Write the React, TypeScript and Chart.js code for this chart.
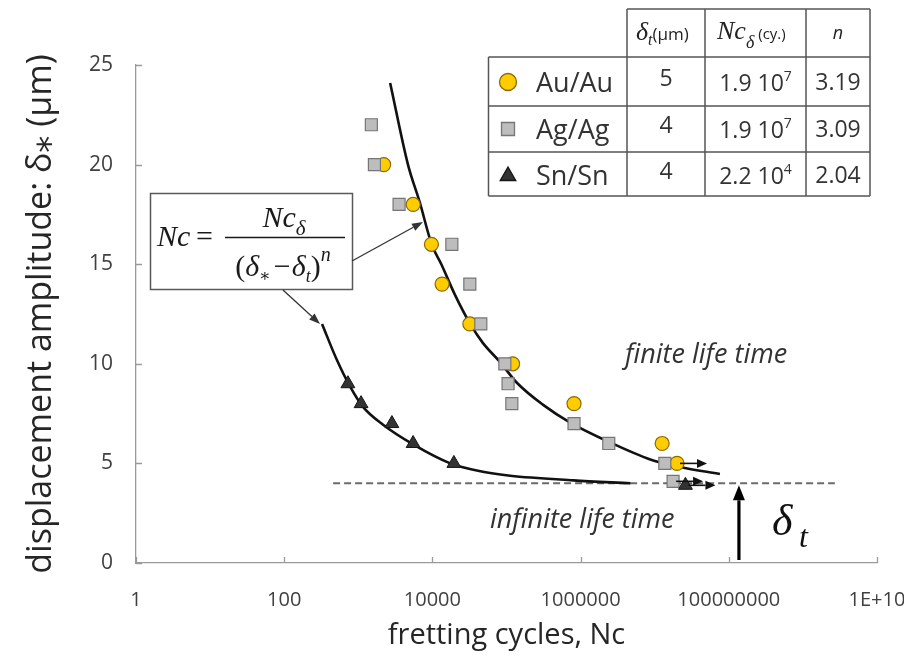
import React, { useEffect, useRef } from 'react';
import { Chart, registerables } from 'chart.js';

Chart.register(...registerables);

// ---------- data ----------
const xTickValues = [1, 100, 1e4, 1e6, 1e8, 1e10];
const xTickLabels = ['1', '100', '10000', '1000000', '100000000', '1E+10'];
const yTickValues = [0, 5, 10, 15, 20, 25];
const yTickLabels = ['0', '5', '10', '15', '20', '25'];

const auX = [2200, 5500, 9700, 13500, 32000, 121000, 815000, 12600000];
const auY = [20, 18, 16, 14, 12, 10, 8, 6];
const auRunX = [20000000];
const auRunY = [5];

const agX = [1500, 1650, 3550, 18300, 32000, 45000, 95000, 105000, 118000, 815000, 2400000, 13700000];
const agY = [22, 20, 18, 16, 14, 12, 10, 9, 8, 7, 6, 5];
const agRunX = [17700000];
const agRunY = [4.1];

const snX = [724, 1090, 2840, 5490, 19500];
const snY = [9, 8, 7, 6, 5];
const snRunX = [26000000];
const snRunY = [3.9];

// fitted curves
const fitAgX = [2690, 4680, 6760, 9770, 13200, 19950, 32400, 47900, 81300, 138000, 309000, 724000, 2510000, 8710000, 21900000, 75900000];
const fitAgY = [24.1, 20.0, 18.1, 16.0, 15.0, 13.5, 12.0, 11.05, 10.1, 9.05, 7.95, 7.05, 6.05, 5.2, 4.82, 4.47];
const fitSnX = [324, 513, 776, 1150, 2140, 5500, 17400, 47900, 112000, 800000, 4700000];
const fitSnY = [12.0, 10.2, 8.85, 7.85, 6.95, 5.95, 5.0, 4.58, 4.38, 4.15, 4.0];

const deltaT = 4;
const dashX = [457, 2700000000];
const deltaArrowX = 137000000;
const deltaArrowFromY = 0.15;

const tableMaterials = ['Au/Au', 'Ag/Ag', 'Sn/Sn'];
const tableDeltaT = ['5', '4', '4'];
const tableNcMant = ['1.9 10', '1.9 10', '2.2 10'];
const tableNcExp = ['7', '7', '4'];
const tableN = ['3.19', '3.09', '2.04'];

// ---------- styles ----------
const SANS = '"Open Sans", "DejaVu Sans", sans-serif';
const SERIF = '"Liberation Serif", "DejaVu Serif", serif';
const AXIS = '#9a9a9a';
const AU_FILL = '#FFCC00';
const AU_EDGE = '#8a6a00';
const AG_FILL = '#BDBDBD';
const AG_EDGE = '#767676';
const SN_FILL = '#333333';
const SN_EDGE = '#151515';

const toPts = (xs: number[], ys: number[]) => xs.map((x, i) => ({ x, y: ys[i] }));

function arrow(ctx: CanvasRenderingContext2D, x1: number, y1: number, x2: number, y2: number, head: number, hw: number, lw: number, color: string) {
  const a = Math.atan2(y2 - y1, x2 - x1);
  const bx = x2 - Math.cos(a) * head;
  const by = y2 - Math.sin(a) * head;
  ctx.strokeStyle = color;
  ctx.fillStyle = color;
  ctx.lineWidth = lw;
  ctx.beginPath();
  ctx.moveTo(x1, y1);
  ctx.lineTo(bx, by);
  ctx.stroke();
  ctx.beginPath();
  ctx.moveTo(x2, y2);
  ctx.lineTo(bx + Math.sin(a) * hw / 2, by - Math.cos(a) * hw / 2);
  ctx.lineTo(bx - Math.sin(a) * hw / 2, by + Math.cos(a) * hw / 2);
  ctx.closePath();
  ctx.fill();
}

type Run = { t: string; font: string; dy?: number; gap?: number };
function runsWidth(ctx: CanvasRenderingContext2D, runs: Run[]) {
  let w = 0;
  for (const r of runs) { ctx.font = r.font; w += ctx.measureText(r.t).width + (r.gap || 0); }
  return w;
}
function drawRuns(ctx: CanvasRenderingContext2D, runs: Run[], x: number, base: number) {
  for (const r of runs) {
    ctx.font = r.font;
    ctx.fillText(r.t, x, base + (r.dy || 0));
    x += ctx.measureText(r.t).width + (r.gap || 0);
  }
  return x;
}

function marker(ctx: CanvasRenderingContext2D, kind: string, x: number, y: number, s: number) {
  ctx.beginPath();
  if (kind === 'circle') {
    ctx.arc(x, y, s, 0, Math.PI * 2);
    ctx.fillStyle = AU_FILL; ctx.strokeStyle = AU_EDGE;
  } else if (kind === 'rect') {
    ctx.rect(x - s, y - s, 2 * s, 2 * s);
    ctx.fillStyle = AG_FILL; ctx.strokeStyle = AG_EDGE;
  } else {
    ctx.moveTo(x, y - s);
    ctx.lineTo(x + s * 0.866, y + s / 2);
    ctx.lineTo(x - s * 0.866, y + s / 2);
    ctx.closePath();
    ctx.fillStyle = SN_FILL; ctx.strokeStyle = SN_EDGE;
  }
  ctx.lineWidth = 1.3;
  ctx.fill();
  ctx.stroke();
}

const overlay = {
  id: 'overlay',
  afterDatasetsDraw(chart: any) {
    const ctx: CanvasRenderingContext2D = chart.ctx;
    const xs = chart.scales.x;
    const ys = chart.scales.y;
    ctx.save();
    // runout arrows
    const runs: [number[], number[]][] = [[auRunX, auRunY], [agRunX, agRunY], [snRunX, snRunY]];
    runs.forEach(([rx, ry]) => {
      rx.forEach((v, i) => {
        const px = xs.getPixelForValue(v);
        const py = ys.getPixelForValue(ry[i]);
        arrow(ctx, px + 3, py, px + 30, py, 10, 9, 1.6, '#111');
      });
    });
    // delta_t vertical arrow
    const ax = xs.getPixelForValue(deltaArrowX);
    arrow(ctx, ax, ys.getPixelForValue(deltaArrowFromY), ax, ys.getPixelForValue(deltaT) + 2, 15, 12, 3.2, '#000');
    ctx.restore();
  },
  afterDraw(chart: any) {
    const ctx: CanvasRenderingContext2D = chart.ctx;
    const xs = chart.scales.x;
    const ys = chart.scales.y;
    ctx.save();
    // inside tick marks
    ctx.strokeStyle = AXIS;
    ctx.lineWidth = 1.3;
    ctx.beginPath();
    xTickValues.forEach((v) => {
      const px = Math.round(xs.getPixelForValue(v)) + 0.5;
      ctx.moveTo(px, ys.bottom);
      ctx.lineTo(px, ys.bottom - 6);
    });
    yTickValues.forEach((v) => {
      const py = Math.round(ys.getPixelForValue(v)) + 0.5;
      ctx.moveTo(xs.left, py);
      ctx.lineTo(xs.left + 6, py);
    });
    ctx.stroke();

    // annotation texts
    ctx.fillStyle = '#333';
    ctx.textBaseline = 'middle';
    ctx.textAlign = 'left';
    ctx.font = `italic 27px ${SANS}`;
    ctx.fillText('finite life time', 625, 355);
    ctx.fillText('infinite life time', 490, 520);

    ctx.textBaseline = 'alphabetic';
    ctx.fillStyle = '#111';
    ctx.font = `italic 44px ${SERIF}`;
    ctx.fillText('δ', 772, 535);
    ctx.font = `italic 32px ${SERIF}`;
    ctx.fillText('t', 799, 547);

    // formula box
    ctx.fillStyle = '#fff';
    ctx.fillRect(150, 193, 202, 96);
    ctx.strokeStyle = '#595959';
    ctx.lineWidth = 1.5;
    ctx.strokeRect(150.5, 193.5, 202, 96);
    ctx.fillStyle = '#1a1a1a';
    drawRuns(ctx, [{ t: 'Nc', font: `italic 30px ${SERIF}` }], 157, 246);
    drawRuns(ctx, [{ t: '=', font: `30px ${SERIF}` }], 196, 246);
    ctx.strokeStyle = '#1a1a1a';
    ctx.lineWidth = 1.4;
    ctx.beginPath();
    ctx.moveTo(225, 237.5);
    ctx.lineTo(345, 237.5);
    ctx.stroke();
    const num: Run[] = [
      { t: 'Nc', font: `italic 30px ${SERIF}` },
      { t: 'δ', font: `italic 21px ${SERIF}`, dy: 8 },
    ];
    drawRuns(ctx, num, 284 - runsWidth(ctx, num) / 2, 227);
    const den: Run[] = [
      { t: '(', font: `30px ${SERIF}` },
      { t: 'δ', font: `italic 30px ${SERIF}` },
      { t: '∗', font: `17px ${SERIF}`, dy: 5, gap: 3 },
      { t: '−', font: `30px ${SERIF}`, gap: 1 },
      { t: 'δ', font: `italic 30px ${SERIF}` },
      { t: 't', font: `italic 18px ${SERIF}`, dy: 6 },
      { t: ')', font: `30px ${SERIF}` },
      { t: 'n', font: `italic 20px ${SERIF}`, dy: -15 },
    ];
    drawRuns(ctx, den, 283 - runsWidth(ctx, den) / 2, 276);

    // formula arrows
    arrow(ctx, 352, 261, 423, 222, 11, 8, 1.3, '#333');
    arrow(ctx, 283, 290, 320, 324, 11, 8, 1.3, '#333');

    // table
    const L = 488.5, C1 = 627, C2 = 705, C3 = 806, R = 870;
    const T = 9, H = 57, R1 = 106, R2 = 152, B = 196;
    ctx.fillStyle = '#fff';
    ctx.fillRect(C1, T, R - C1, H - T);
    ctx.fillRect(L, H, R - L, B - H);
    ctx.strokeStyle = '#555';
    ctx.lineWidth = 1.5;
    ctx.beginPath();
    ctx.moveTo(C1, T); ctx.lineTo(R, T);
    ctx.moveTo(L, H); ctx.lineTo(R, H);
    ctx.moveTo(L, R1); ctx.lineTo(R, R1);
    ctx.moveTo(L, R2); ctx.lineTo(R, R2);
    ctx.moveTo(L, B); ctx.lineTo(R, B);
    ctx.moveTo(L, H); ctx.lineTo(L, B);
    [C1, C2, C3, R].forEach((cx) => { ctx.moveTo(cx, T); ctx.lineTo(cx, B); });
    ctx.stroke();

    // header
    ctx.fillStyle = '#222';
    drawRuns(ctx, [
      { t: 'δ', font: `italic 26px ${SERIF}` },
      { t: 't', font: `italic 16px ${SERIF}`, dy: 5 },
      { t: '(µm)', font: `17px ${SANS}` },
    ], 636, 40);
    drawRuns(ctx, [
      { t: 'Nc', font: `italic 26px ${SERIF}` },
      { t: 'δ', font: `italic 18px ${SERIF}`, dy: 9, gap: 4 },
      { t: '(cy.)', font: `15px ${SANS}` },
    ], 717, 39);
    ctx.font = `italic 18px ${SANS}`;
    ctx.textAlign = 'center';
    ctx.fillText('n', 838, 39);

    const rowMid = [82, 129, 175];
    const kinds = ['circle', 'rect', 'triangle'];
    const sizes = [8.5, 6.5, 9];
    rowMid.forEach((y, i) => {
      marker(ctx, kinds[i], 508, y + (i === 2 ? 1 : 0), sizes[i]);
      ctx.fillStyle = '#333';
      ctx.textAlign = 'left';
      ctx.textBaseline = 'middle';
      ctx.font = `27px ${SANS}`;
      ctx.fillText(tableMaterials[i], 536, y + 2);
      ctx.font = `23px ${SANS}`;
      ctx.textAlign = 'center';
      ctx.fillText(tableDeltaT[i], (C1 + C2) / 2, y - 3);
      ctx.fillText(tableN[i], (C3 + R) / 2, y + 1);
      ctx.textAlign = 'left';
      ctx.textBaseline = 'alphabetic';
      const nc: Run[] = [
        { t: tableNcMant[i], font: `23px ${SANS}` },
        { t: tableNcExp[i], font: `14px ${SANS}`, dy: -10 },
      ];
      drawRuns(ctx, nc, (C2 + C3) / 2 - runsWidth(ctx, nc) / 2, y + 9);
    });
    ctx.restore();
  },
};

export default function App() {
  const ref = useRef<HTMLCanvasElement>(null);
  useEffect(() => {
    if (!ref.current) return;
    const chart = new Chart(ref.current, {
      type: 'scatter',
      data: {
        datasets: [
          {
            label: 'fit Au/Ag',
            data: toPts(fitAgX, fitAgY),
            showLine: true,
            borderColor: '#111',
            borderWidth: 2.6,
            pointRadius: 0,
            cubicInterpolationMode: 'monotone',
            order: 10,
          },
          {
            label: 'fit Sn',
            data: toPts(fitSnX, fitSnY),
            showLine: true,
            borderColor: '#111',
            borderWidth: 2.6,
            pointRadius: 0,
            cubicInterpolationMode: 'monotone',
            order: 10,
          },
          {
            label: 'delta t',
            data: toPts(dashX, [deltaT, deltaT]),
            showLine: true,
            borderColor: '#6b6b6b',
            borderWidth: 2,
            borderDash: [7, 4],
            pointRadius: 0,
            order: 11,
          },
          {
            label: 'Au/Au',
            data: toPts([...auX, ...auRunX], [...auY, ...auRunY]),
            pointStyle: 'circle',
            pointRadius: 7,
            backgroundColor: AU_FILL,
            borderColor: AU_EDGE,
            borderWidth: 1.2,
            order: 3,
          },
          {
            label: 'Ag/Ag',
            data: toPts([...agX, ...agRunX], [...agY, ...agRunY]),
            pointStyle: 'rect',
            pointRadius: 8.5,
            backgroundColor: AG_FILL,
            borderColor: AG_EDGE,
            borderWidth: 1.2,
            order: 2,
          },
          {
            label: 'Sn/Sn',
            data: toPts([...snX, ...snRunX], [...snY, ...snRunY]),
            pointStyle: 'triangle',
            pointRadius: 8,
            backgroundColor: SN_FILL,
            borderColor: SN_EDGE,
            borderWidth: 1,
            order: 1,
          },
        ],
      } as any,
      options: {
        responsive: false,
        animation: false,
        devicePixelRatio: 1,
        layout: { padding: { left: 0, top: 65, right: 27, bottom: 0 } },
        plugins: { legend: { display: false }, tooltip: { enabled: false } },
        scales: {
          x: {
            type: 'logarithmic',
            min: 1,
            max: 1e10,
            afterBuildTicks: (s: any) => { s.ticks = xTickValues.map((v) => ({ value: v })); },
            afterFit: (s: any) => { s.height = 95; s.paddingLeft = 0; s.paddingRight = 0; },
            grid: { display: false, drawTicks: false },
            border: { display: true, color: AXIS, width: 1.3 },
            ticks: {
              callback: (_v: any, i: number) => xTickLabels[i],
              font: { family: SANS, size: 20 },
              color: '#404040',
              padding: 25,
              maxRotation: 0,
              autoSkip: false,
            },
            title: {
              display: true,
              text: 'fretting cycles, Nc',
              font: { family: SANS, size: 29 },
              color: '#262626',
              padding: { top: 0, bottom: 5 },
            },
          },
          y: {
            type: 'linear',
            min: 0,
            max: 25,
            afterBuildTicks: (s: any) => { s.ticks = yTickValues.map((v) => ({ value: v })); },
            afterFit: (s: any) => { s.width = 136; s.paddingTop = 0; s.paddingBottom = 0; },
            grid: { display: false, drawTicks: false },
            border: { display: true, color: AXIS, width: 1.3 },
            ticks: {
              callback: (_v: any, i: number) => yTickLabels[i],
              font: { family: SANS, size: 21 },
              color: '#404040',
              padding: 23,
            },
            title: {
              display: true,
              text: 'displacement amplitude: δ⁎ (µm)',
              font: { family: SANS, size: 34 },
              color: '#262626',
              padding: { top: 21, bottom: 0 },
            },
          },
        },
      } as any,
      plugins: [overlay],
    });
    return () => chart.destroy();
  }, []);
  return (
    <div style={{ position: 'fixed', left: 0, top: 0, width: 904, height: 658, background: '#fff' }}>
      <canvas ref={ref} width={904} height={658} style={{ display: 'block', width: 904, height: 658 }} />
    </div>
  );
}
